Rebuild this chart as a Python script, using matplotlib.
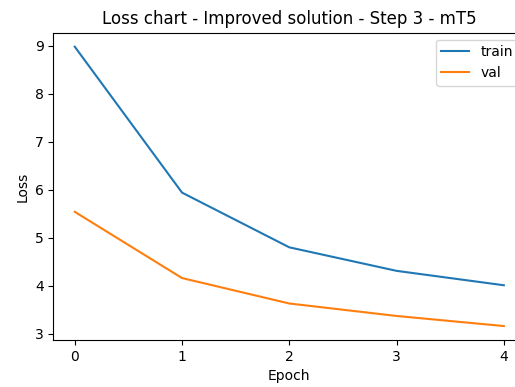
import matplotlib
matplotlib.use("Agg")
import matplotlib.pyplot as plt

# loss values per epoch
epochs = [0, 1, 2, 3, 4]
train_loss = [8.98, 5.94, 4.80, 4.31, 4.01]
val_loss = [5.54, 4.16, 3.63, 3.37, 3.16]

fig = plt.figure(figsize=(5.15, 3.87), dpi=100)
# axes run slightly past the right edge, like the cropped original
ax = fig.add_axes([0.1035, 0.1214, 0.9165, 0.794])

ax.plot(epochs, train_loss, label="train")
ax.plot(epochs, val_loss, label="val")

ax.set_title("Loss chart - Improved solution - Step 3 - mT5")
ax.set_xlabel("Epoch")
ax.set_ylabel("Loss")
ax.set_xticks(epochs)
ax.legend(loc="upper right")

fig.savefig("out.png", dpi=100)
